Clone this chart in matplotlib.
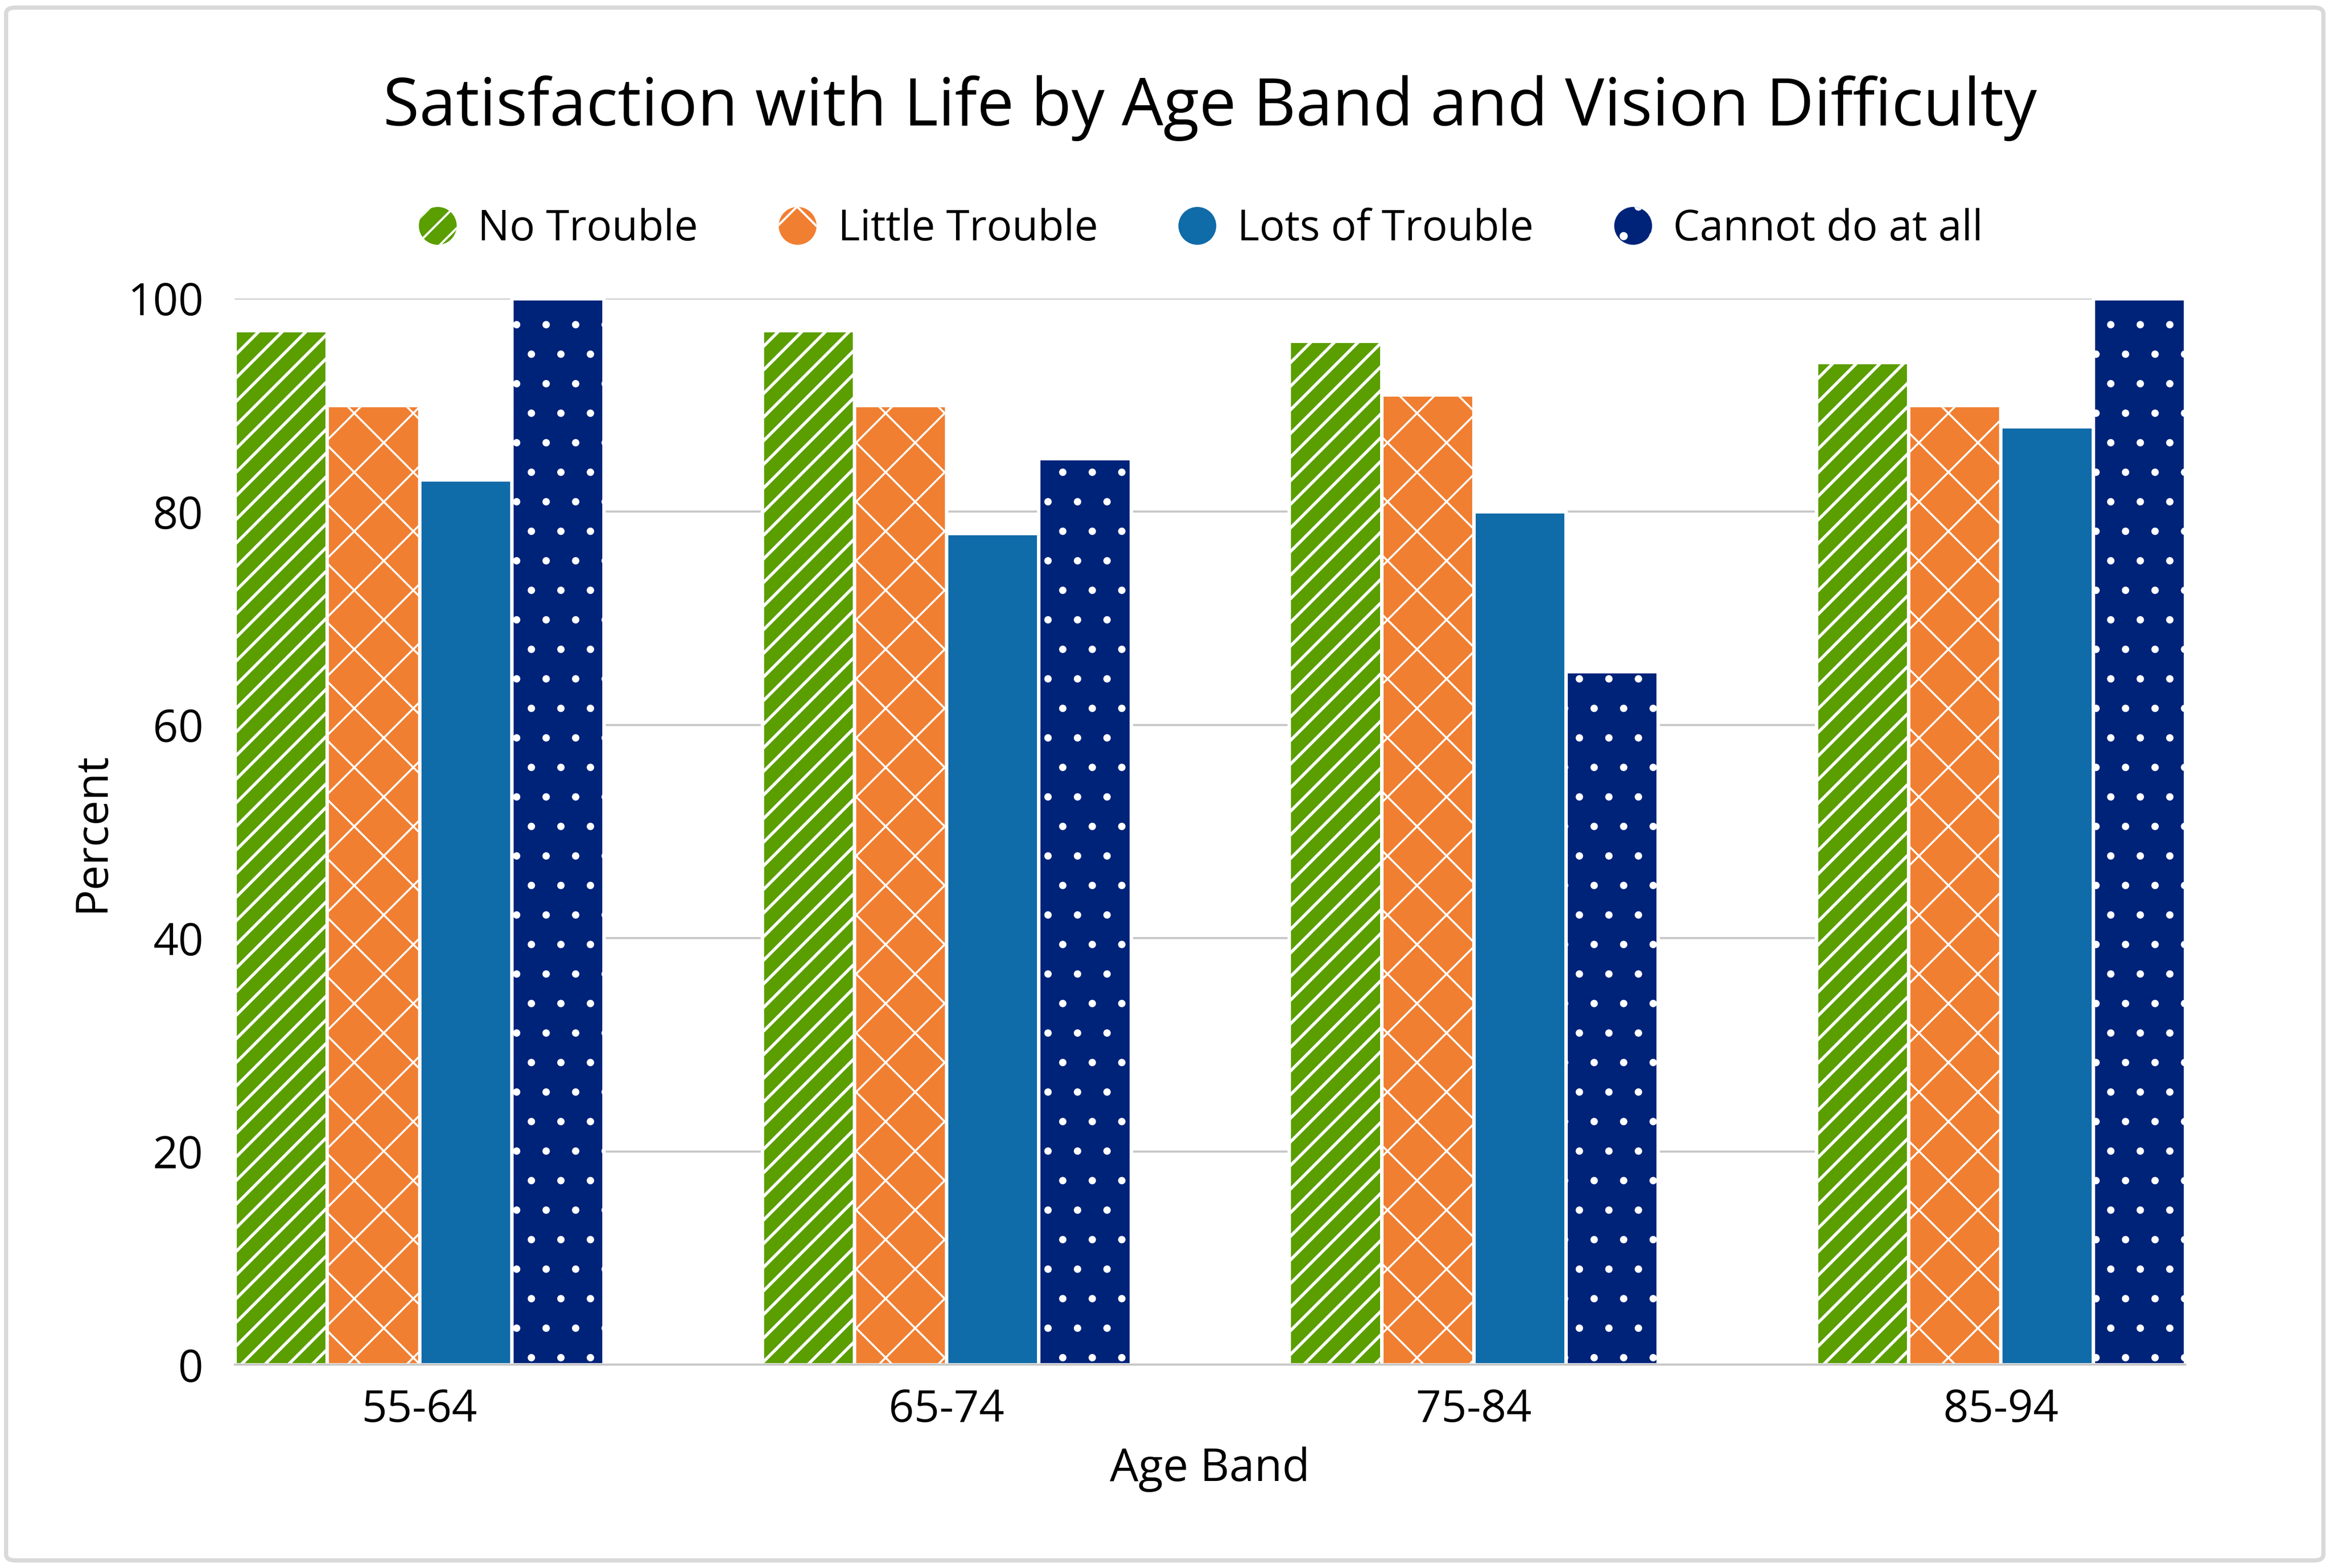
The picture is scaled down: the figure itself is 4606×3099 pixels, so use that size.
import matplotlib
matplotlib.use("Agg")
import matplotlib.pyplot as plt
import matplotlib.patches as mpatches
from matplotlib.legend_handler import HandlerPatch
import numpy as np

age_bands = ["55-64", "65-74", "75-84", "85-94"]
series_names = ["No Trouble", "Little Trouble", "Lots of Trouble", "Cannot do at all"]
no_trouble = [97, 97, 96, 94]
little_trouble = [90, 90, 91, 90]
lots_of_trouble = [83, 78, 80, 88]
cannot_do = [100, 85, 65, 100]
y_ticks = [0, 20, 40, 60, 80, 100]

colors = ["#5a9e00", "#f07f32", "#106ba9", "#00237a"]
hatches = ["/////", "xx", None, ".."]
hatch_lw = [0.62, 0.4, 0.4, 0.3]

FONT = "Open Sans"
plt.rcParams["font.family"] = [FONT, "DejaVu Sans"]
plt.rcParams["hatch.linewidth"] = 0.45

W, H, DPI = 4606, 3099, 700
fig = plt.figure(figsize=(W / DPI, H / DPI), dpi=DPI)
ax = fig.add_axes([464 / W, 1 - 2697 / H, (4318 - 464) / W, (2697 - 590) / H])

values = [no_trouble, little_trouble, lots_of_trouble, cannot_do]
x = np.arange(len(age_bands))
bw = 0.175
offsets = (np.arange(4) - 1.5) * bw
containers = []
for i, vals in enumerate(values):
    bc = ax.bar(x + offsets[i], vals, width=bw, color=colors[i], edgecolor="white",
                linewidth=0.7, hatch=hatches[i], label=series_names[i], zorder=2)
    for p in bc.patches:
        try:
            p.set_hatch_linewidth(hatch_lw[i])
        except Exception:
            pass
    containers.append(bc)

ax.set_xlim(-0.35, 3.35)
ax.set_ylim(0, 100)
ax.set_yticks(y_ticks)
ax.set_xticks(x)
ax.set_xticklabels(age_bands)
ax.tick_params(axis="both", length=0, labelsize=9.0, colors="black")
ax.tick_params(axis="y", pad=6.4)
ax.tick_params(axis="x", pad=4.7)
ax.yaxis.grid(True, color="#c8c8c8", linewidth=0.43, zorder=0)
ax.set_axisbelow(True)
for s in ["top", "right", "left"]:
    ax.spines[s].set_visible(False)
ax.spines["bottom"].set_color("#c8c8c8")
ax.spines["bottom"].set_linewidth(0.43)


class HandlerCircle(HandlerPatch):
    def create_artists(self, legend, orig_handle, xdescent, ydescent, width, height,
                       fontsize, trans):
        r = min(width, height) / 2
        c = mpatches.Circle((width / 2 - xdescent, height / 2 - ydescent), r)
        self.update_prop(c, orig_handle, legend)
        c.set_linewidth(0)
        c.set_transform(trans)
        return [c]


handles = [c.patches[0] for c in containers]
fig.legend(handles, series_names, loc="center", bbox_to_anchor=(2371 / W, 1 - 452 / H),
           ncol=4, frameon=False, fontsize=8.6, handlelength=1.0, handleheight=1.0,
           handletextpad=0.45, columnspacing=1.85,
           handler_map={mpatches.Rectangle: HandlerCircle()})

fig.text(2391 / W, 1 - 214 / H, "Satisfaction with Life by Age Band and Vision Difficulty",
         ha="center", va="center", fontsize=13.4)
fig.text(2391 / W, 1 - 2904 / H, "Age Band", ha="center", va="center", fontsize=9.2)
fig.text(182 / W, 1 - 1645 / H, "Percent", ha="center", va="center", fontsize=9.1,
         rotation=90)

border = mpatches.FancyBboxPatch((12 / W, 15 / H), 1 - 27 / W, 1 - 30 / H,
                                 boxstyle="round,pad=0,rounding_size=0.004",
                                 transform=fig.transFigure, facecolor="none",
                                 edgecolor="#d9d9d9", linewidth=0.86)
fig.patches.append(border)

fig.savefig("out.png", dpi=DPI, facecolor="white")
